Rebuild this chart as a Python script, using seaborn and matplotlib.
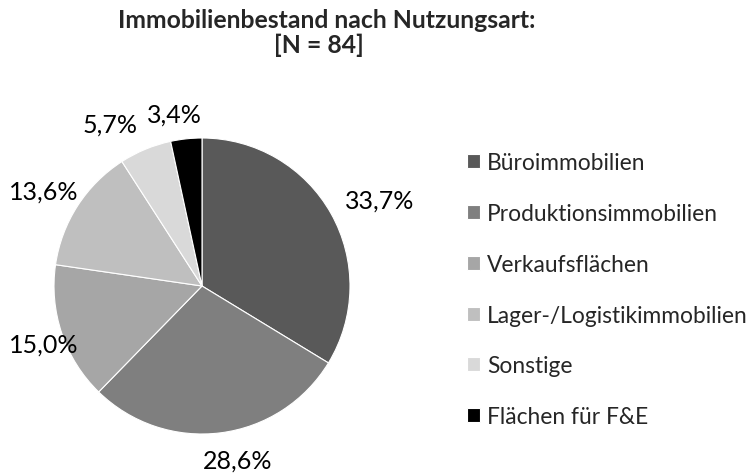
import matplotlib
matplotlib.use("Agg")
import matplotlib.pyplot as plt
import numpy as np
import seaborn as sns

# Daten
kategorien = [
    "Büroimmobilien",
    "Produktionsimmobilien",
    "Verkaufsflächen",
    "Lager-/Logistikimmobilien",
    "Sonstige",
    "Flächen für F&E",
]
anteile = [33.7, 28.6, 15.0, 13.6, 5.7, 3.4]
farben = ["#595959", "#7f7f7f", "#a6a6a6", "#bfbfbf", "#d9d9d9", "#000000"]

# Lage der Beschriftungen (Abstand in Radien, Winkelversatz in Grad)
label_abstand = [1.336, 1.203, 1.137, 1.246, 1.26, 1.177]
label_versatz = [-3.5, 4.3, 1.5, 1.8, 7.2, 3.0]

sns.set_theme(style="white")
plt.rcParams["font.family"] = ["Lato", "DejaVu Sans"]

fig = plt.figure(figsize=(7.51, 4.77), dpi=100)
W, H = 751, 477
cx, cy, r = 202, 287, 148
ax = fig.add_axes([(cx - r) / W, (H - cy - r) / H, 2 * r / W, 2 * r / H])

wedges, _ = ax.pie(
    anteile,
    colors=sns.color_palette(farben),
    startangle=90,
    counterclock=False,
    radius=1.0,
    wedgeprops=dict(edgecolor="white", linewidth=0.8),
)
ax.set_xlim(-1, 1)
ax.set_ylim(-1, 1)

for w, val, d, off in zip(wedges, anteile, label_abstand, label_versatz):
    ang = np.deg2rad((w.theta1 + w.theta2) / 2 + off)
    ax.text(d * np.cos(ang), d * np.sin(ang), f"{val:.1f}%".replace(".", ","),
            ha="center", va="center", fontsize=18, color="black")

fig.text(327 / W, 1 - 21 / H, "Immobilienbestand nach Nutzungsart:",
         ha="center", va="center", fontsize=17.8, fontweight="bold")
fig.text(319 / W, 1 - 45 / H, "[N = 84]",
         ha="center", va="center", fontsize=17.8, fontweight="bold")

fig.legend(wedges, kategorien, loc="upper left",
           bbox_to_anchor=(458 / W, 1 - 144 / H), frameon=False,
           fontsize=16.4, handlelength=0.57, handleheight=0.57,
           handletextpad=0.3, labelspacing=1.31, borderaxespad=0)

fig.savefig("out.png", dpi=100)
